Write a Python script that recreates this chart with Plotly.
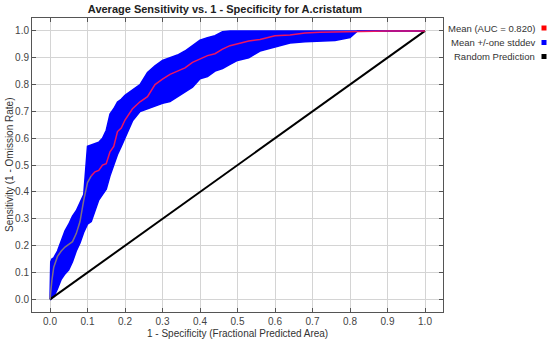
import plotly.graph_objects as go

# ---------------- data ----------------
fpr = [0.0, 0.002, 0.005, 0.01, 0.02, 0.03, 0.04, 0.05, 0.06, 0.07, 0.08, 0.09,
       0.10, 0.11, 0.12, 0.13, 0.14, 0.15, 0.16, 0.17, 0.18, 0.19, 0.20, 0.22,
       0.24, 0.26, 0.28, 0.30, 0.32, 0.34, 0.36, 0.38, 0.40, 0.42, 0.44, 0.46,
       0.48, 0.50, 0.53, 0.56, 0.60, 0.64, 0.68, 0.72, 0.76, 0.80, 0.82, 0.90, 1.0]
mean_tpr = [0.0, 0.04, 0.07, 0.12, 0.16, 0.18, 0.195, 0.205, 0.215, 0.245, 0.29, 0.37,
            0.435, 0.46, 0.475, 0.48, 0.50, 0.505, 0.55, 0.57, 0.625, 0.638, 0.668, 0.71,
            0.736, 0.755, 0.80, 0.82, 0.838, 0.85, 0.862, 0.883, 0.895, 0.908, 0.915, 0.932,
            0.945, 0.952, 0.962, 0.968, 0.982, 0.985, 0.992, 0.995, 0.996, 0.998, 1.0, 1.0, 1.0]
upper_tpr = [0.0, 0.14, 0.15, 0.155, 0.18, 0.215, 0.255, 0.28, 0.31, 0.33, 0.36, 0.39,
             0.57, 0.575, 0.58, 0.585, 0.60, 0.63, 0.69, 0.71, 0.735, 0.745, 0.76, 0.78,
             0.80, 0.845, 0.87, 0.89, 0.90, 0.91, 0.925, 0.945, 0.965, 0.975, 0.982, 0.997,
             1.0, 1.0, 1.0, 1.0, 1.0, 1.0, 1.0, 1.0, 1.0, 1.0, 1.0, 1.0, 1.0]
lower_tpr = [0.0, 0.0, 0.005, 0.01, 0.04, 0.075, 0.095, 0.11, 0.14, 0.18, 0.21, 0.25,
             0.28, 0.29, 0.33, 0.37, 0.39, 0.41, 0.46, 0.50, 0.54, 0.57, 0.60, 0.665,
             0.70, 0.71, 0.72, 0.73, 0.737, 0.755, 0.77, 0.79, 0.822, 0.83, 0.85, 0.86,
             0.875, 0.89, 0.90, 0.925, 0.94, 0.955, 0.96, 0.962, 0.964, 0.975, 1.0, 1.0, 1.0]
random_x = [0.0, 1.0]
random_y = [0.0, 1.0]
ticks = [0.0, 0.1, 0.2, 0.3, 0.4, 0.5, 0.6, 0.7, 0.8, 0.9, 1.0]
tick_text = ["0.0", "0.1", "0.2", "0.3", "0.4", "0.5", "0.6", "0.7", "0.8", "0.9", "1.0"]
legend_labels = ["Mean (AUC = 0.820)", "Mean +/-one stddev", "Random Prediction"]
legend_colors = ["#ff0000", "#0000ff", "#000000"]
split_idx = 13  # mean line drawn greyish below this point

# ---------------- figure ----------------
W, H = 550, 347
# plot area in page pixel coordinates
PL, PR, PT, PB = 32, 443, 18, 312
L, R, T, B = PL, W - PR, PT, H - PB
pw, ph = W - L - R, H - T - B


def px_x(px):
    return (px - PL) / pw


def px_y(py):
    return 1 - (py - PT) / ph


FONT = "Liberation Sans, Arial, sans-serif"

fig = go.Figure()
fig.add_trace(go.Scatter(x=fpr, y=lower_tpr, mode="lines", line=dict(color="#0000ff", width=1.5),
                         hoverinfo="skip", showlegend=False))
fig.add_trace(go.Scatter(x=fpr, y=upper_tpr, mode="lines", line=dict(color="#0000ff", width=1.5),
                         fill="tonexty", fillcolor="#0000ff", hoverinfo="skip", showlegend=False))
fig.add_trace(go.Scatter(x=random_x, y=random_y, mode="lines", line=dict(color="#000000", width=2),
                         showlegend=False))
fig.add_trace(go.Scatter(x=fpr[:split_idx + 1], y=mean_tpr[:split_idx + 1], mode="lines",
                         line=dict(color="#7f6f86", width=1.5), showlegend=False))
fig.add_trace(go.Scatter(x=fpr[split_idx:], y=mean_tpr[split_idx:], mode="lines",
                         line=dict(color="#ee1560", width=1.5), showlegend=False))

axis_common = dict(
    tickvals=ticks, ticktext=tick_text, showgrid=True, gridcolor="#d4d4d4", gridwidth=1,
    zeroline=False, showline=True, linecolor="#555555", linewidth=1, mirror="ticks",
    ticks="inside", ticklen=4, tickcolor="#555555",
    tickfont=dict(family=FONT, size=10, color="#444444"),
)
fig.update_xaxes(range=[-0.048, 1.048], **axis_common)
fig.update_yaxes(range=[-0.047, 1.048], **axis_common)

fig.update_layout(
    width=W, height=H, margin=dict(l=L, r=R, t=T, b=B, autoexpand=False),
    paper_bgcolor="white", plot_bgcolor="white", showlegend=False,
    title=dict(text="<b>Average Sensitivity vs. 1 - Specificity for A.cristatum</b>",
               x=225 / W, xanchor="center", y=1 - 9 / H, yanchor="middle",
               font=dict(family=FONT, size=11, color="#222222")),
)

# axis titles
fig.add_annotation(text="1 - Specificity (Fractional Predicted Area)", xref="paper", yref="paper",
                   x=px_x(237), y=px_y(333), xanchor="center", yanchor="middle", showarrow=False,
                   font=dict(family=FONT, size=10, color="#333333"))
fig.add_annotation(text="Sensitivity (1 - Omission Rate)", xref="paper", yref="paper",
                   x=px_x(9), y=px_y(165), xanchor="center", yanchor="middle", textangle=-90,
                   showarrow=False, font=dict(family=FONT, size=10, color="#333333"))

# legend
legend_rows = [28, 42.5, 56.5]
for lab, col, yy in zip(legend_labels, legend_colors, legend_rows):
    fig.add_annotation(text=lab, xref="paper", yref="paper", x=px_x(537), y=px_y(yy),
                       xanchor="right", yanchor="middle", showarrow=False,
                       font=dict(family=FONT, size=9.5, color="#333333"))
    fig.add_shape(type="rect", xref="paper", yref="paper",
                  x0=px_x(541.5), x1=px_x(546.5), y0=px_y(yy + 2.5), y1=px_y(yy - 2.5),
                  fillcolor=col, line=dict(width=0))

fig.write_html("out.html", config={"displayModeBar": False},
               post_script="document.body.style.margin='0px';")
